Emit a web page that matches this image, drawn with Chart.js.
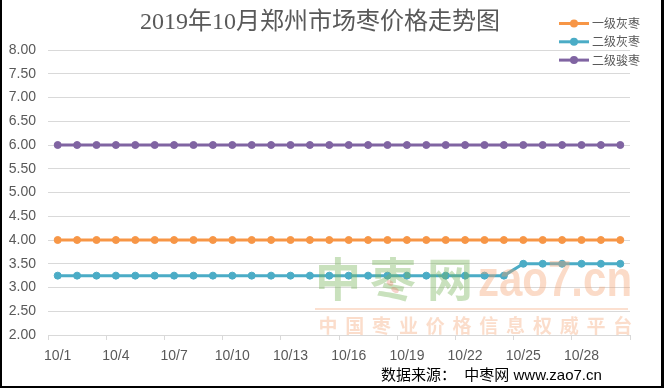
<!DOCTYPE html>
<html><head><meta charset="utf-8">
<script src="https://cdn.jsdelivr.net/npm/chart.js@4.4.1/dist/chart.umd.min.js"></script>
<style>html,body{margin:0;padding:0;background:#fff;}canvas{display:block;}</style>
</head><body>
<canvas id="c" width="664" height="388"></canvas>
<script>
const categories = ['10/1','10/2','10/3','10/4','10/5','10/6','10/7','10/8','10/9','10/10',
  '10/11','10/12','10/13','10/14','10/15','10/16','10/17','10/18','10/19','10/20',
  '10/21','10/22','10/23','10/24','10/25','10/26','10/27','10/28','10/29','10/30'];
const grade1Gray = [4.00,4.00,4.00,4.00,4.00,4.00,4.00,4.00,4.00,4.00,
  4.00,4.00,4.00,4.00,4.00,4.00,4.00,4.00,4.00,4.00,
  4.00,4.00,4.00,4.00,4.00,4.00,4.00,4.00,4.00,4.00];
const grade2Gray = [3.25,3.25,3.25,3.25,3.25,3.25,3.25,3.25,3.25,3.25,
  3.25,3.25,3.25,3.25,3.25,3.25,3.25,3.25,3.25,3.25,
  3.25,3.25,3.25,3.25,3.50,3.50,3.50,3.50,3.50,3.50];
const grade2Jun = [6.00,6.00,6.00,6.00,6.00,6.00,6.00,6.00,6.00,6.00,
  6.00,6.00,6.00,6.00,6.00,6.00,6.00,6.00,6.00,6.00,
  6.00,6.00,6.00,6.00,6.00,6.00,6.00,6.00,6.00,6.00];
const seriesNames = ['一级灰枣','二级灰枣','二级骏枣'];
const seriesColors = ['#F79646','#4BACC6','#8064A2'];
const yMin = 2, yMax = 8, yStep = 0.5;
const titleText = '2019年10月郑州市场枣价格走势图';
const sourceText = '数据来源：  中枣网 www.zao7.cn';

function mkSet(i, data){
  return {label: seriesNames[i], data: data, borderColor: seriesColors[i], backgroundColor: seriesColors[i],
    pointBackgroundColor: seriesColors[i], pointBorderColor: seriesColors[i], borderWidth: 3,
    pointRadius: 3.5, pointBorderWidth: 1, pointHoverRadius: 3.5, tension: 0, fill: false};
}

const overlay = {
  id: 'overlay',
  beforeDraw(chart){
    const ctx = chart.ctx;
    ctx.save(); ctx.fillStyle = '#fff'; ctx.fillRect(0,0,chart.width,chart.height); ctx.restore();
  },
  afterDraw(chart){
    const ctx = chart.ctx;
    ctx.save();
    // title
    ctx.fillStyle = '#595959';
    ctx.font = '24px "Liberation Serif", "Noto Sans CJK SC"';
    ctx.textAlign = 'center'; ctx.textBaseline = 'middle';
    ctx.fillText(titleText, 320, 23);
    // legend
    ctx.textAlign = 'left';
    ctx.font = '12px "Noto Sans CJK SC"';
    chart.data.datasets.forEach((ds, i) => {
      const y = 23.5 + i * 18.3;
      ctx.strokeStyle = ds.borderColor; ctx.lineWidth = 3;
      ctx.beginPath(); ctx.moveTo(559, y); ctx.lineTo(589, y); ctx.stroke();
      ctx.fillStyle = ds.borderColor;
      ctx.beginPath(); ctx.arc(574, y, 4, 0, Math.PI*2); ctx.fill();
      ctx.fillStyle = '#595959';
      ctx.fillText(ds.label, 592, y);
    });
    // watermark
    ctx.fillStyle = 'rgba(120,180,90,0.40)';
    ctx.font = 'bold 46px "Noto Sans CJK SC"';
    ctx.textBaseline = 'alphabetic';
    ctx.textAlign = 'center';
    ctx.fillText('中', 338, 296);
    ctx.fillText('枣', 393, 296);
    ctx.fillText('网', 450, 296);
    ctx.fillStyle = 'rgba(235,110,90,0.30)';
    ctx.beginPath(); ctx.ellipse(390, 283, 3.5, 2.5, 0.5, 0, Math.PI*2); ctx.fill();
    ctx.beginPath(); ctx.ellipse(395, 290, 4, 2.5, 0.5, 0, Math.PI*2); ctx.fill();
    ctx.save();
    ctx.fillStyle = 'rgba(245,160,110,0.38)';
    ctx.font = 'bold 50px "Liberation Sans"';
    ctx.textAlign = 'left';
    ctx.translate(478, 296);
    ctx.scale(0.84, 1);
    ctx.fillText('zao7.cn', 0, 0);
    ctx.restore();
    ctx.strokeStyle = 'rgba(245,160,110,0.32)'; ctx.lineWidth = 2;
    ctx.beginPath(); ctx.moveTo(315, 309); ctx.lineTo(628, 309); ctx.stroke();
    ctx.fillStyle = 'rgba(245,160,110,0.36)';
    ctx.font = 'bold 19px "Noto Sans CJK SC"';
    ctx.textBaseline = 'middle';
    const sub = '中国枣业价格信息权威平台';
    for (let k = 0; k < sub.length; k++) ctx.fillText(sub[k], 328 + k * 26.8, 326);
    // source
    ctx.fillStyle = '#000';
    ctx.font = '15px "Liberation Sans", "Noto Sans CJK SC"';
    ctx.textAlign = 'left'; ctx.textBaseline = 'middle';
    ctx.fillText(sourceText, 381, 376);
    // frame
    ctx.fillStyle = '#000';
    ctx.fillRect(0, 0, 2, chart.height);
    ctx.fillRect(chart.width - 3, 0, 3, chart.height);
    ctx.fillRect(0, chart.height - 2, chart.width, 2);
    ctx.restore();
  }
};

new Chart(document.getElementById('c'), {
  type: 'line',
  data: {labels: categories, datasets: [mkSet(0, grade1Gray), mkSet(1, grade2Gray), mkSet(2, grade2Jun)]},
  options: {
    responsive: false, animation: false, devicePixelRatio: 1,
    layout: {padding: {top: 50, right: 34, bottom: 0, left: 0}},
    plugins: {legend: {display: false}, title: {display: false}, tooltip: {enabled: false}},
    scales: {
      x: {
        offset: true,
        afterFit: s => { s.height = 53; },
        grid: {offset: true, drawOnChartArea: false, tickLength: 5,
          color: c => (c.index === undefined || c.index % 3 === 0) ? '#d9d9d9' : 'rgba(0,0,0,0)'},
        border: {display: true, color: '#d9d9d9', width: 1},
        ticks: {autoSkip: false, maxRotation: 0, minRotation: 0, padding: 8, color: '#595959',
          font: {family: '"Liberation Sans"', size: 14},
          callback: function(v, i){ return i % 3 === 0 ? this.getLabelForValue(v) : ''; }}
      },
      y: {
        min: yMin, max: yMax,
        afterFit: s => { s.width = 48; },
        grid: {color: '#d9d9d9', drawTicks: false, lineWidth: 1},
        border: {display: false},
        ticks: {stepSize: yStep, padding: 12, color: '#595959',
          font: {family: '"Liberation Sans"', size: 14},
          callback: v => Number(v).toFixed(2)}
      }
    }
  },
  plugins: [overlay]
});
</script>
</body></html>
